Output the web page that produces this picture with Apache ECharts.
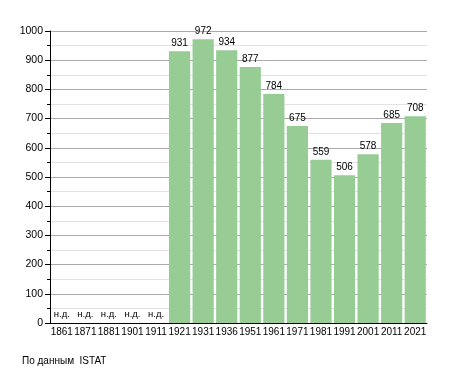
<!DOCTYPE html>
<html><head><meta charset="utf-8">
<script src="https://cdn.jsdelivr.net/npm/echarts@6/dist/echarts.min.js"></script>
<style>html,body{margin:0;padding:0;background:#fff}#c{width:455px;height:373px}</style>
</head><body><div id="c"></div>
<script>
const years = ['1861','1871','1881','1901','1911','1921','1931','1936','1951','1961','1971','1981','1991','2001','2011','2021'];
const population = [null,null,null,null,null,931,972,934,877,784,675,559,506,578,685,708];
const yTicks = [0,100,200,300,400,500,600,700,800,900,1000];
const noDataLabel = 'н.д.';
const source = 'По данным  ISTAT';

const font = 'Liberation Sans, Arial, sans-serif';
const chart = echarts.init(document.getElementById('c'));
chart.setOption({
  animation:false,
  grid:{left:50,right:28,top:31,bottom:50},
  xAxis:{type:'category',data:years,
    axisLine:{lineStyle:{color:'#000',width:1}},axisTick:{show:false},
    axisLabel:{interval:0,color:'#000',fontFamily:font,fontSize:10,margin:4}},
  yAxis:{type:'value',min:yTicks[0],max:yTicks[yTicks.length-1],interval:100,
    axisLine:{show:true,lineStyle:{color:'#000',width:1}},
    axisTick:{show:true,length:5,lineStyle:{color:'#000'}},
    minorTick:{show:true,splitNumber:2,length:3,lineStyle:{color:'#000'}},
    splitLine:{lineStyle:{color:'#aaaaaa',width:1}},
    minorSplitLine:{show:true,lineStyle:{color:'#e2e2e2',width:1}},
    axisLabel:{color:'#000',fontFamily:font,fontSize:10.5,margin:7,formatter:v=>String(v)}},
  series:[{type:'bar',barCategoryGap:'10%',
    itemStyle:{color:'#97cd95'},
    label:{show:true,position:'top',distance:3,color:'#000',fontFamily:font,fontSize:10},
    data:population.map(v=>v==null?{value:0,label:{formatter:noDataLabel,fontSize:9.5,distance:4}}:v)
  }],
  graphic:[{type:'text',left:22,top:356,style:{text:source,fill:'#000',font:'10px '+font}}]
});
</script></body></html>
